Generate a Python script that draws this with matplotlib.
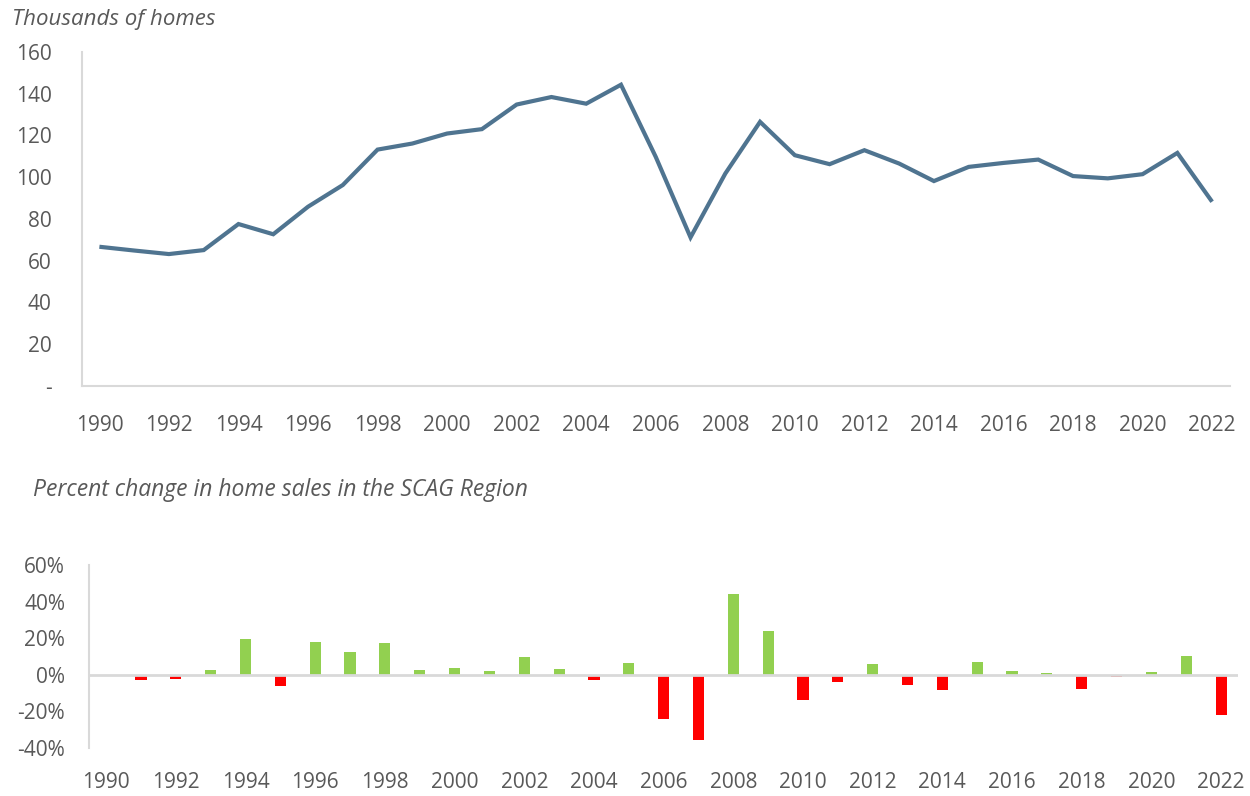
import matplotlib
matplotlib.use("Agg")
import matplotlib.pyplot as plt
import numpy as np

years = list(range(1990, 2023))
homes_k = [66.6, 64.8, 63.1, 65.0, 77.5, 72.6, 85.8, 96.2, 113.2, 116.1, 120.9,
           123.0, 134.8, 138.4, 135.2, 144.3, 109.7, 71.1, 101.7, 126.5, 110.5,
           106.2, 112.9, 106.5, 98.1, 104.9, 106.8, 108.4, 100.5, 99.4, 101.4,
           111.6, 88.2]
pct_change = [None, -2.8, -2.2, 2.8, 19.5, -5.9, 18.2, 12.7, 17.6, 2.8, 3.9,
              2.2, 10.1, 3.3, -2.6, 6.8, -24.2, -35.6, 44.6, 23.9, -13.6,
              -3.7, 6.2, -5.7, -8.3, 7.3, 2.2, 1.3, -7.7, -0.9, 1.7,
              10.5, -21.7]
top_yticks = [0, 20, 40, 60, 80, 100, 120, 140, 160]
top_yticklabels = ["-", "20", "40", "60", "80", "100", "120", "140", "160"]
bot_yticks = [-40, -20, 0, 20, 40, 60]
bot_yticklabels = ["-40%", "-20%", "0%", "20%", "40%", "60%"]
xtick_years = list(range(1990, 2023, 2))

LINE_C = "#4F7490"
GREEN = "#92D050"
RED = "#FF0000"
TXT = "#595959"
AX = "#D9D9D9"
FONT = "Open Sans"

plt.rcParams['font.family'] = [FONT, 'DejaVu Sans']

fig = plt.figure(figsize=(12.5, 7.96), dpi=100)

# ---- top line chart
ax1 = fig.add_axes([0.0656, 0.5155, 0.918, 0.4192])
x = np.arange(len(years))
ax1.plot(x, homes_k, color=LINE_C, lw=3, solid_joinstyle='miter', solid_capstyle='butt')
ax1.set_xlim(-0.5, len(years) - 0.5)
ax1.set_ylim(0, 160)
ax1.set_yticks(top_yticks)
ax1.set_yticklabels(top_yticklabels)
ax1.set_xticks([years.index(y) for y in xtick_years])
ax1.set_xticklabels([str(y) for y in xtick_years])
for s in ["top", "right"]:
    ax1.spines[s].set_visible(False)
for s in ["left", "bottom"]:
    ax1.spines[s].set_color(AX)
    ax1.spines[s].set_linewidth(1.5)
ax1.tick_params(axis='both', length=0, labelsize=15, colors=TXT)
ax1.tick_params(axis='y', pad=22)
ax1.tick_params(axis='x', pad=21)
fig.text(0.0096, 0.976, "Thousands of homes", style='italic', fontsize=16,
         color=TXT, ha='left', va='center')

# ---- bottom bar chart
ax2 = fig.add_axes([0.071, 0.0603, 0.9198, 0.2293])
vals = [v if v is not None else 0 for v in pct_change]
colors = [GREEN if v >= 0 else RED for v in vals]
ax2.bar(x, vals, width=0.32, color=colors, linewidth=0, zorder=2)
ax2.axhline(0, color=AX, lw=2, zorder=3)
ax2.set_xlim(-0.5, len(years) - 0.5)
ax2.set_ylim(-40, 60)
ax2.set_yticks(bot_yticks)
ax2.set_yticklabels(bot_yticklabels)
ax2.set_xticks([years.index(y) for y in xtick_years])
ax2.set_xticklabels([str(y) for y in xtick_years])
for s in ["top", "right", "bottom"]:
    ax2.spines[s].set_visible(False)
ax2.spines["left"].set_color(AX)
ax2.spines["left"].set_linewidth(1.5)
ax2.tick_params(axis='both', length=0, labelsize=15, colors=TXT)
ax2.tick_params(axis='y', pad=17)
ax2.tick_params(axis='x', pad=17)
fig.text(0.0264, 0.384, "Percent change in home sales in the SCAG Region",
         style='italic', fontsize=16.5, color=TXT, ha='left', va='center')

fig.savefig("out.png", dpi=100)
